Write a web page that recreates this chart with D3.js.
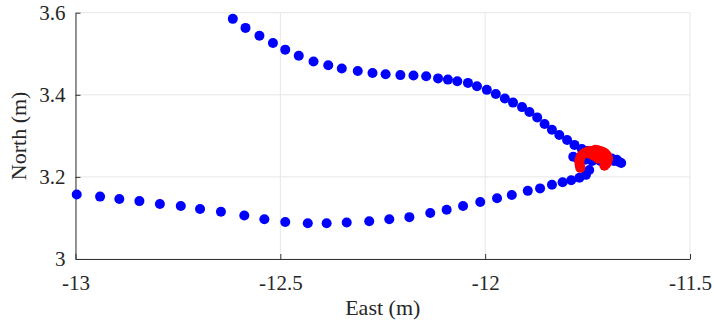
<!DOCTYPE html>
<html>
<head>
<meta charset="utf-8">
<script src="https://cdn.jsdelivr.net/npm/d3@7"></script>
<style>
  body { margin: 0; background: #fff; }
</style>
</head>
<body>
<svg id="chart" width="714" height="324"></svg>
<script>
// trajectory points (East, North) in metres
var upperEast = [-12.616, -12.585, -12.551, -12.518, -12.488, -12.455, -12.419, -12.383, -12.350, -12.311,
  -12.275, -12.243, -12.207, -12.175, -12.144, -12.115, -12.091, -12.068, -12.042, -12.020,
  -11.996, -11.974, -11.952, -11.932, -11.910, -11.892, -11.873, -11.855, -11.837, -11.819,
  -11.800, -11.782, -11.764, -11.751]
var upperNorth = [3.585, 3.563, 3.544, 3.526, 3.510, 3.495, 3.481, 3.472, 3.464, 3.458,
  3.453, 3.450, 3.448, 3.447, 3.445, 3.440, 3.437, 3.433, 3.429, 3.421,
  3.412, 3.402, 3.391, 3.381, 3.370, 3.358, 3.345, 3.329, 3.315, 3.302,
  3.290, 3.278, 3.268, 3.263]

var lowerEast = [-12.997, -12.940, -12.893, -12.844, -12.794, -12.743, -12.696, -12.645, -12.588, -12.539,
  -12.488, -12.433, -12.387, -12.338, -12.283, -12.234, -12.185, -12.134, -12.094, -12.054,
  -12.012, -11.971, -11.935, -11.896, -11.866, -11.837, -11.811, -11.790, -11.770, -11.754, -11.746]
var lowerNorth = [3.157, 3.152, 3.146, 3.141, 3.134, 3.129, 3.122, 3.115, 3.106, 3.097,
  3.090, 3.087, 3.087, 3.089, 3.092, 3.097, 3.102, 3.112, 3.120, 3.129,
  3.139, 3.148, 3.156, 3.166, 3.172, 3.181, 3.187, 3.192, 3.198, 3.205, 3.217]

var loopEast = [-11.785, -11.773, -11.756, -11.739, -11.719, -11.703, -11.691, -11.686, -11.679, -11.674, -11.668]
var loopNorth = [3.249, 3.244, 3.242, 3.239, 3.239, 3.239, 3.245, 3.239, 3.242, 3.237, 3.234]

var redEast = [-11.768, -11.769, -11.770, -11.770, -11.768, -11.766, -11.761, -11.756, -11.750, -11.744,
  -11.737, -11.731, -11.725, -11.719, -11.714, -11.709, -11.705, -11.702, -11.700, -11.701,
  -11.702, -11.705, -11.709, -11.734, -11.724, -11.744, -11.714]
var redNorth = [3.222, 3.228, 3.234, 3.240, 3.246, 3.251, 3.256, 3.259, 3.262, 3.263,
  3.264, 3.266, 3.265, 3.263, 3.261, 3.259, 3.255, 3.251, 3.246, 3.241,
  3.236, 3.231, 3.227, 3.251, 3.244, 3.256, 3.248]

var xTicks = [-13, -12.5, -12, -11.5]
var xTickLabels = ["-13", "-12.5", "-12", "-11.5"]
var yTicks = [3, 3.2, 3.4, 3.6]
var yTickLabels = ["3", "3.2", "3.4", "3.6"]

var svg = d3.select("#chart")
var plotL = 75.5, plotR = 690, plotT = 12.7, plotB = 259
var serif = "Liberation Serif"

var x = d3.scaleLinear().domain([-13, -11.5]).range([plotL, plotR])
var y = d3.scaleLinear().domain([3, 3.6]).range([plotB, plotT])

// grid
svg.append("g").selectAll("line").data(xTicks).enter().append("line")
  .attr("x1", d => x(d)).attr("x2", d => x(d))
  .attr("y1", plotT).attr("y2", plotB)
  .attr("stroke", "#e6e6e6").attr("stroke-width", 1)
svg.append("g").selectAll("line").data(yTicks).enter().append("line")
  .attr("x1", plotL).attr("x2", plotR)
  .attr("y1", d => y(d)).attr("y2", d => y(d))
  .attr("stroke", "#e6e6e6").attr("stroke-width", 1)

// axes
var xAxis = svg.append("g")
  .attr("transform", "translate(0," + plotB + ")")
  .call(d3.axisBottom(x).tickValues(xTicks)
    .tickFormat((d, i) => xTickLabels[i])
    .tickSizeInner(-5).tickSizeOuter(0).tickPadding(16))
var yAxis = svg.append("g")
  .attr("transform", "translate(" + plotL + ",0)")
  .call(d3.axisLeft(y).tickValues(yTicks)
    .tickFormat((d, i) => yTickLabels[i])
    .tickSizeInner(-5).tickSizeOuter(0).tickPadding(10))

;[xAxis, yAxis].forEach(function (g) {
  g.attr("font-family", null).attr("font-size", null)
  g.select(".domain").attr("stroke", "#333")
  g.selectAll(".tick line").attr("stroke", "#333")
  g.selectAll(".tick text")
    .attr("fill", "#262626")
    .attr("font-family", serif)
    .attr("font-size", 21)
})

svg.append("text")
  .attr("x", (plotL + plotR) / 2).attr("y", 315)
  .attr("text-anchor", "middle")
  .attr("fill", "#262626")
  .attr("font-family", serif)
  .attr("font-size", 22)
  .text("East (m)")

svg.append("text")
  .attr("transform", "translate(26," + (plotT + plotB) / 2 + ") rotate(-90)")
  .attr("text-anchor", "middle")
  .attr("fill", "#262626")
  .attr("font-family", serif)
  .attr("font-size", 22)
  .text("North (m)")

function dots(eastArr, northArr, color) {
  var pts = eastArr.map((e, i) => ({ e: e, n: northArr[i] }))
  svg.append("g").selectAll("circle").data(pts).enter().append("circle")
    .attr("cx", d => x(d.e))
    .attr("cy", d => y(d.n))
    .attr("r", 5)
    .attr("fill", color)
}

dots(upperEast, upperNorth, "#0000ff")
dots(lowerEast, lowerNorth, "#0000ff")
dots(loopEast, loopNorth, "#0000ff")
dots(redEast, redNorth, "#ff0000")
</script>
</body>
</html>
